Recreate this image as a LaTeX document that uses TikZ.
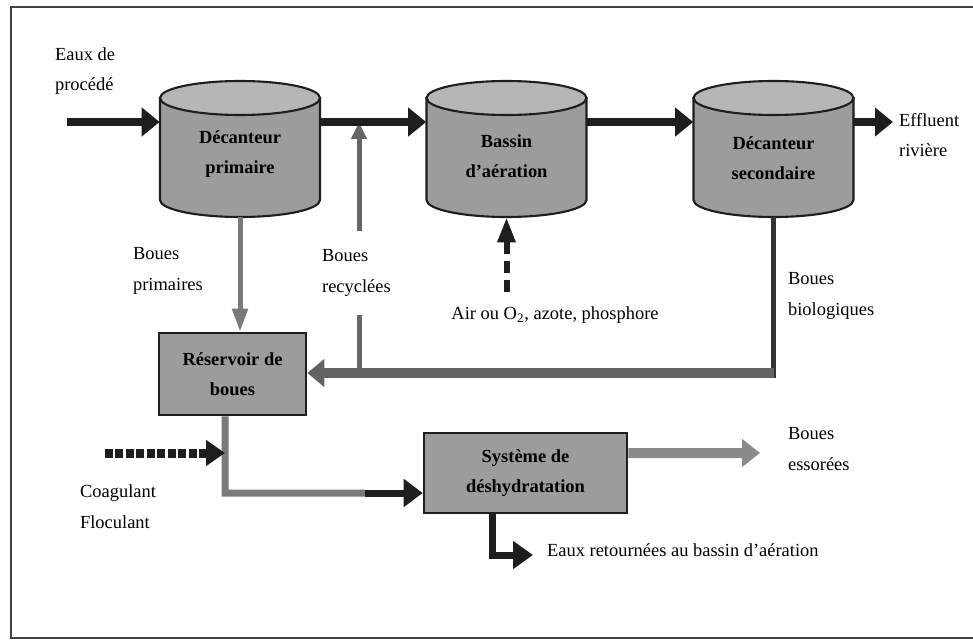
\documentclass[tikz,border=0pt]{standalone}
\usepackage{fontspec}
\setmainfont{Liberation Serif}
\usetikzlibrary{arrows.meta}

\definecolor{fondgris}{HTML}{9C9C9C}
\definecolor{dessusgris}{HTML}{B6B6B6}
\definecolor{trait}{HTML}{1E1E1E}
\definecolor{boue}{HTML}{7A7A7A}
\definecolor{retour}{HTML}{626262}
\definecolor{essor}{HTML}{8A8A8A}

\tikzset{
  etiq/.style={font=\fontsize{10.5}{17.5}\selectfont, align=left, anchor=west, inner sep=1pt},
  cuve/.style={minimum width=3.2cm, minimum height=2.72cm, align=center,
               font=\fontsize{10.5}{17}\selectfont\bfseries},
  bac/.style={draw=trait, line width=1.5pt, fill=fondgris, align=center,
              font=\fontsize{10.5}{17}\selectfont\bfseries},
  flux/.style={draw=trait, line width=0.18cm, -{Triangle[length=0.36cm,width=0.56cm]}},
}

\begin{document}
\begin{tikzpicture}[x=0.02cm, y=-0.02cm]
    \useasboundingbox (0,0) rectangle (973,642);
    \draw[black!75, line width=1.2pt] (973,7) -- (11,7) -- (11,638) -- (973,638);

    % cuves
    \foreach \cx in {240,506.5,773.5}{
      \filldraw[draw=trait, line width=1.2pt, fill=fondgris]
        ({\cx-80},98) -- ({\cx-80},200) arc[start angle=180, end angle=360, x radius=1.6cm, y radius=0.34cm]
        -- ({\cx+80},98) -- cycle;
      \filldraw[draw=trait, line width=1.2pt, fill=dessusgris] (\cx,98) ellipse[x radius=1.6cm, y radius=0.34cm];
    }

    \node[cuve] (DecPrim)   at (240,154)   {D\'ecanteur\\primaire};
    \node[cuve] (Bassin)    at (506.5,156) {Bassin\\d'a\'eration};
    \node[cuve] (DecSec)    at (773.5,158) {D\'ecanteur\\secondaire};

    \node[bac, minimum width=2.94cm, minimum height=1.64cm] (Reservoir) at (232.5,374) {R\'eservoir de\\boues};
    \node[bac, minimum width=4.06cm, minimum height=1.6cm]  (Systeme)   at (525.5,473) {Syst\`eme de\\d\'eshydratation};

    \coordinate (Entree)   at (67,122);
    \coordinate (Sortie)   at (893,122);
    \coordinate (RecJct)   at (359,373);
    \coordinate (RecMain)  at (359,122);
    \coordinate (BioCoin)  at (773.5,373);
    \coordinate (Air)      at (506.5,292);
    \coordinate (Melange)  at (225,493);
    \coordinate (Gris)     at (365,493);
    \coordinate (Coag)     at (105,453);
    \coordinate (Essor)    at (760,453);
    \coordinate (Retour)   at (533,555);

    % boues recyclees (sous la ligne principale)
    \draw[draw=black!60, line width=0.1cm, -{Triangle[length=0.34cm,width=0.3cm]}] (RecJct) -- (RecMain);

    % ligne principale
    \draw[flux] (Entree) -- (Entree -| DecPrim.west);
    \draw[flux] (Entree -| DecPrim.east) -- (Entree -| Bassin.west);
    \draw[flux] (Entree -| Bassin.east) -- (Entree -| DecSec.west);
    \draw[flux] (Entree -| DecSec.east) -- (Sortie);

    % boues
    \draw[draw=boue, line width=0.1cm, -{Triangle[length=0.46cm,width=0.3cm]}] ([yshift=0.1cm]DecPrim.south) -- (DecPrim.south |- Reservoir.north);
    \draw[draw=black!80, line width=0.1cm] ([yshift=0.18cm]DecSec.south) -- ([yshift=-0.1cm]BioCoin);
    \draw[draw=retour, line width=0.2cm, -{Triangle[length=0.34cm,width=0.54cm]}] (BioCoin) -- (BioCoin -| Reservoir.east);

    \draw[draw=trait, line width=0.12cm, dash pattern=on 0.24cm off 0.14cm,
          -{Triangle[length=0.5cm,width=0.34cm]}] (Air) -- ([yshift=0.14cm]Bassin.south);

    \draw[draw=boue, line width=0.14cm] ([xshift=-0.15cm]Reservoir.south) -- (Melange) -- (Gris);
    \draw[draw=trait, line width=0.14cm, -{Triangle[length=0.38cm,width=0.54cm]}] (Gris) -- (Gris -| Systeme.west);
    \draw[draw=trait, line width=0.18cm, dash pattern=on 0.16cm off 0.05cm,
          -{Triangle[length=0.38cm,width=0.5cm]}] (Coag) -- (Coag -| Melange);

    \draw[draw=essor, line width=0.2cm, -{Triangle[length=0.36cm,width=0.54cm]}] ([yshift=0.4cm]Systeme.east) -- (Essor);
    \draw[draw=trait, line width=0.14cm, -{Triangle[length=0.4cm,width=0.54cm]}] ([xshift=-0.67cm]Systeme.south) |- (Retour);

    % textes
    \node[etiq] (EauxProc)  at (53,71)   {Eaux de\\proc\'ed\'e};
    \node[etiq] (Effluent)  at (897,135) {Effluent\\rivi\`ere};
    \node[etiq] (BouesPrim) at (131,271) {Boues\\primaires};
    \node[etiq, fill=white, minimum height=1.68cm] (BouesRec) at (320,273) {Boues\\recycl\'ees};
    \node[etiq, anchor=center] (AirLbl) at (555,315) {Air ou O\textsubscript{2}, azote, phosphore};
    \node[etiq] (BouesBio)  at (786,296) {Boues\\biologiques};
    \node[etiq] (BouesEss)  at (786,449) {Boues\\essor\'ees};
    \node[etiq] (CoagFloc)  at (78,507)  {Coagulant\\Floculant};
    \node[etiq] (EauxRet)   at (545,550) {Eaux retourn\'ees au bassin d'a\'eration};
\end{tikzpicture}
\end{document}
